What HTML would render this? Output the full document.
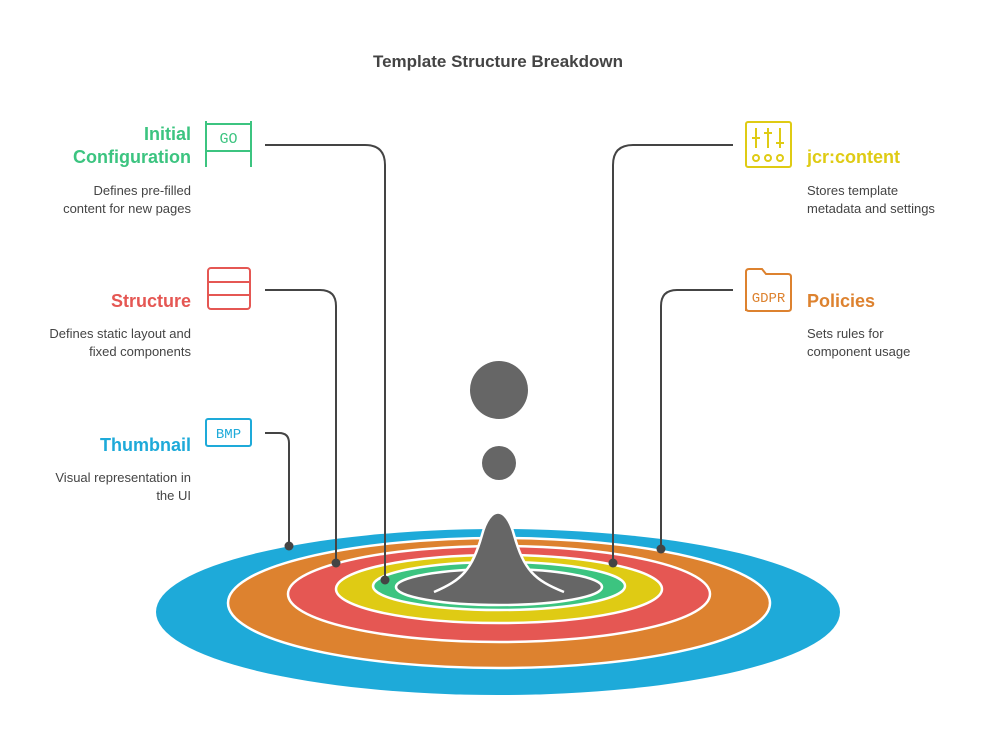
<!DOCTYPE html>
<html><head><meta charset="utf-8"><style>
html,body{margin:0;padding:0;background:#fff;}
svg{display:block;}
.s{font-family:"Liberation Sans",sans-serif;}
.m{font-family:"Liberation Mono",monospace;}
</style></head><body>
<svg width="986" height="747" viewBox="0 0 986 747" xmlns="http://www.w3.org/2000/svg">
<rect width="986" height="747" fill="#fff"/>
<text class="s" x="498" y="67" text-anchor="middle" font-size="17" font-weight="bold" fill="#444">Template Structure Breakdown</text>

<ellipse cx="498" cy="612" rx="342" ry="83" fill="#1eaad9"/>
<ellipse cx="499" cy="603" rx="271" ry="65" fill="#dd822f" stroke="#fff" stroke-width="2.5"/>
<ellipse cx="499" cy="594" rx="211" ry="48" fill="#e55753" stroke="#fff" stroke-width="2.5"/>
<ellipse cx="499" cy="589" rx="163" ry="34" fill="#dfcb14" stroke="#fff" stroke-width="2.5"/>
<ellipse cx="499" cy="586" rx="126" ry="24" fill="#3cc480" stroke="#fff" stroke-width="2.5"/>
<ellipse cx="499" cy="587" rx="103" ry="18" fill="#666" stroke="#fff" stroke-width="2.5"/>
<path d="M434,592 C462,580 472,570 482,535 C490,505 506,505 514,535 C524,570 534,580 564,592 L564,596 L434,596 Z" fill="#666"/>
<path d="M434,592 C462,580 472,570 482,535 C490,505 506,505 514,535 C524,570 534,580 564,592" fill="none" stroke="#fff" stroke-width="2.5"/>
<circle cx="499" cy="390" r="29" fill="#666"/>
<circle cx="499" cy="463" r="17" fill="#666"/>

<g fill="none" stroke="#444" stroke-width="2">
<path d="M265,145 H365 Q385,145 385,165 V580"/>
<path d="M265,290 H320 Q336,290 336,306 V563"/>
<path d="M265,433 H279 Q289,433 289,443 V546"/>
<path d="M733,145 H633 Q613,145 613,165 V563"/>
<path d="M733,290 H677 Q661,290 661,306 V549"/>
</g>
<g fill="#444">
<circle cx="385" cy="580" r="4.5"/>
<circle cx="336" cy="563" r="4.5"/>
<circle cx="289" cy="546" r="4.5"/>
<circle cx="613" cy="563" r="4.5"/>
<circle cx="661" cy="549" r="4.5"/>
</g>

<g fill="none" stroke="#3cc480" stroke-width="2">
<line x1="206" y1="121" x2="206" y2="167"/><line x1="251" y1="121" x2="251" y2="167"/>
<line x1="206" y1="124" x2="251" y2="124"/><line x1="206" y1="151" x2="251" y2="151"/>
</g>
<text class="m" x="228.5" y="143" text-anchor="middle" font-size="15" fill="#3cc480">GO</text>

<g fill="none" stroke="#e55753" stroke-width="2">
<rect x="208" y="268" width="42" height="41" rx="3"/>
<line x1="208" y1="282" x2="250" y2="282"/><line x1="208" y1="295" x2="250" y2="295"/>
</g>

<rect x="206" y="419" width="45" height="27" rx="2" fill="none" stroke="#1eaad9" stroke-width="2"/>
<text class="m" x="228.5" y="438" text-anchor="middle" font-size="14" fill="#1eaad9">BMP</text>

<g fill="none" stroke="#dfcb14" stroke-width="2">
<rect x="746" y="122" width="45" height="45" rx="2"/>
<line x1="756" y1="128" x2="756" y2="148"/><line x1="768" y1="128" x2="768" y2="148"/><line x1="780" y1="128" x2="780" y2="148"/>
<line x1="752" y1="138" x2="760" y2="138"/><line x1="764" y1="133" x2="772" y2="133"/><line x1="776" y1="143" x2="784" y2="143"/>
<circle cx="756" cy="158" r="3"/><circle cx="768" cy="158" r="3"/><circle cx="780" cy="158" r="3"/>
</g>

<path d="M746,311 V272 Q746,269 749,269 H762 L766,274 H788 Q791,274 791,277 V308 Q791,311 788,311 H749 Q746,311 746,308" fill="none" stroke="#dd822f" stroke-width="2"/>
<text class="m" x="768.5" y="302" text-anchor="middle" font-size="14" fill="#dd822f">GDPR</text>

<g class="s" text-anchor="end">
<text x="191" y="140" font-size="18" font-weight="bold" fill="#3cc480">Initial</text>
<text x="191" y="163" font-size="18" font-weight="bold" fill="#3cc480">Configuration</text>
<text x="191" y="195" font-size="13" fill="#444">Defines pre-filled</text>
<text x="191" y="213" font-size="13" fill="#444">content for new pages</text>
<text x="191" y="307" font-size="18" font-weight="bold" fill="#e55753">Structure</text>
<text x="191" y="338" font-size="13" fill="#444">Defines static layout and</text>
<text x="191" y="356" font-size="13" fill="#444">fixed components</text>
<text x="191" y="451" font-size="18" font-weight="bold" fill="#1eaad9">Thumbnail</text>
<text x="191" y="482" font-size="13" fill="#444">Visual representation in</text>
<text x="191" y="500" font-size="13" fill="#444">the UI</text>
</g>
<g class="s">
<text x="807" y="163" font-size="18" font-weight="bold" fill="#dfcb14">jcr:content</text>
<text x="807" y="195" font-size="13" fill="#444">Stores template</text>
<text x="807" y="213" font-size="13" fill="#444">metadata and settings</text>
<text x="807" y="307" font-size="18" font-weight="bold" fill="#dd822f">Policies</text>
<text x="807" y="338" font-size="13" fill="#444">Sets rules for</text>
<text x="807" y="356" font-size="13" fill="#444">component usage</text>
</g>
</svg>
</body></html>
